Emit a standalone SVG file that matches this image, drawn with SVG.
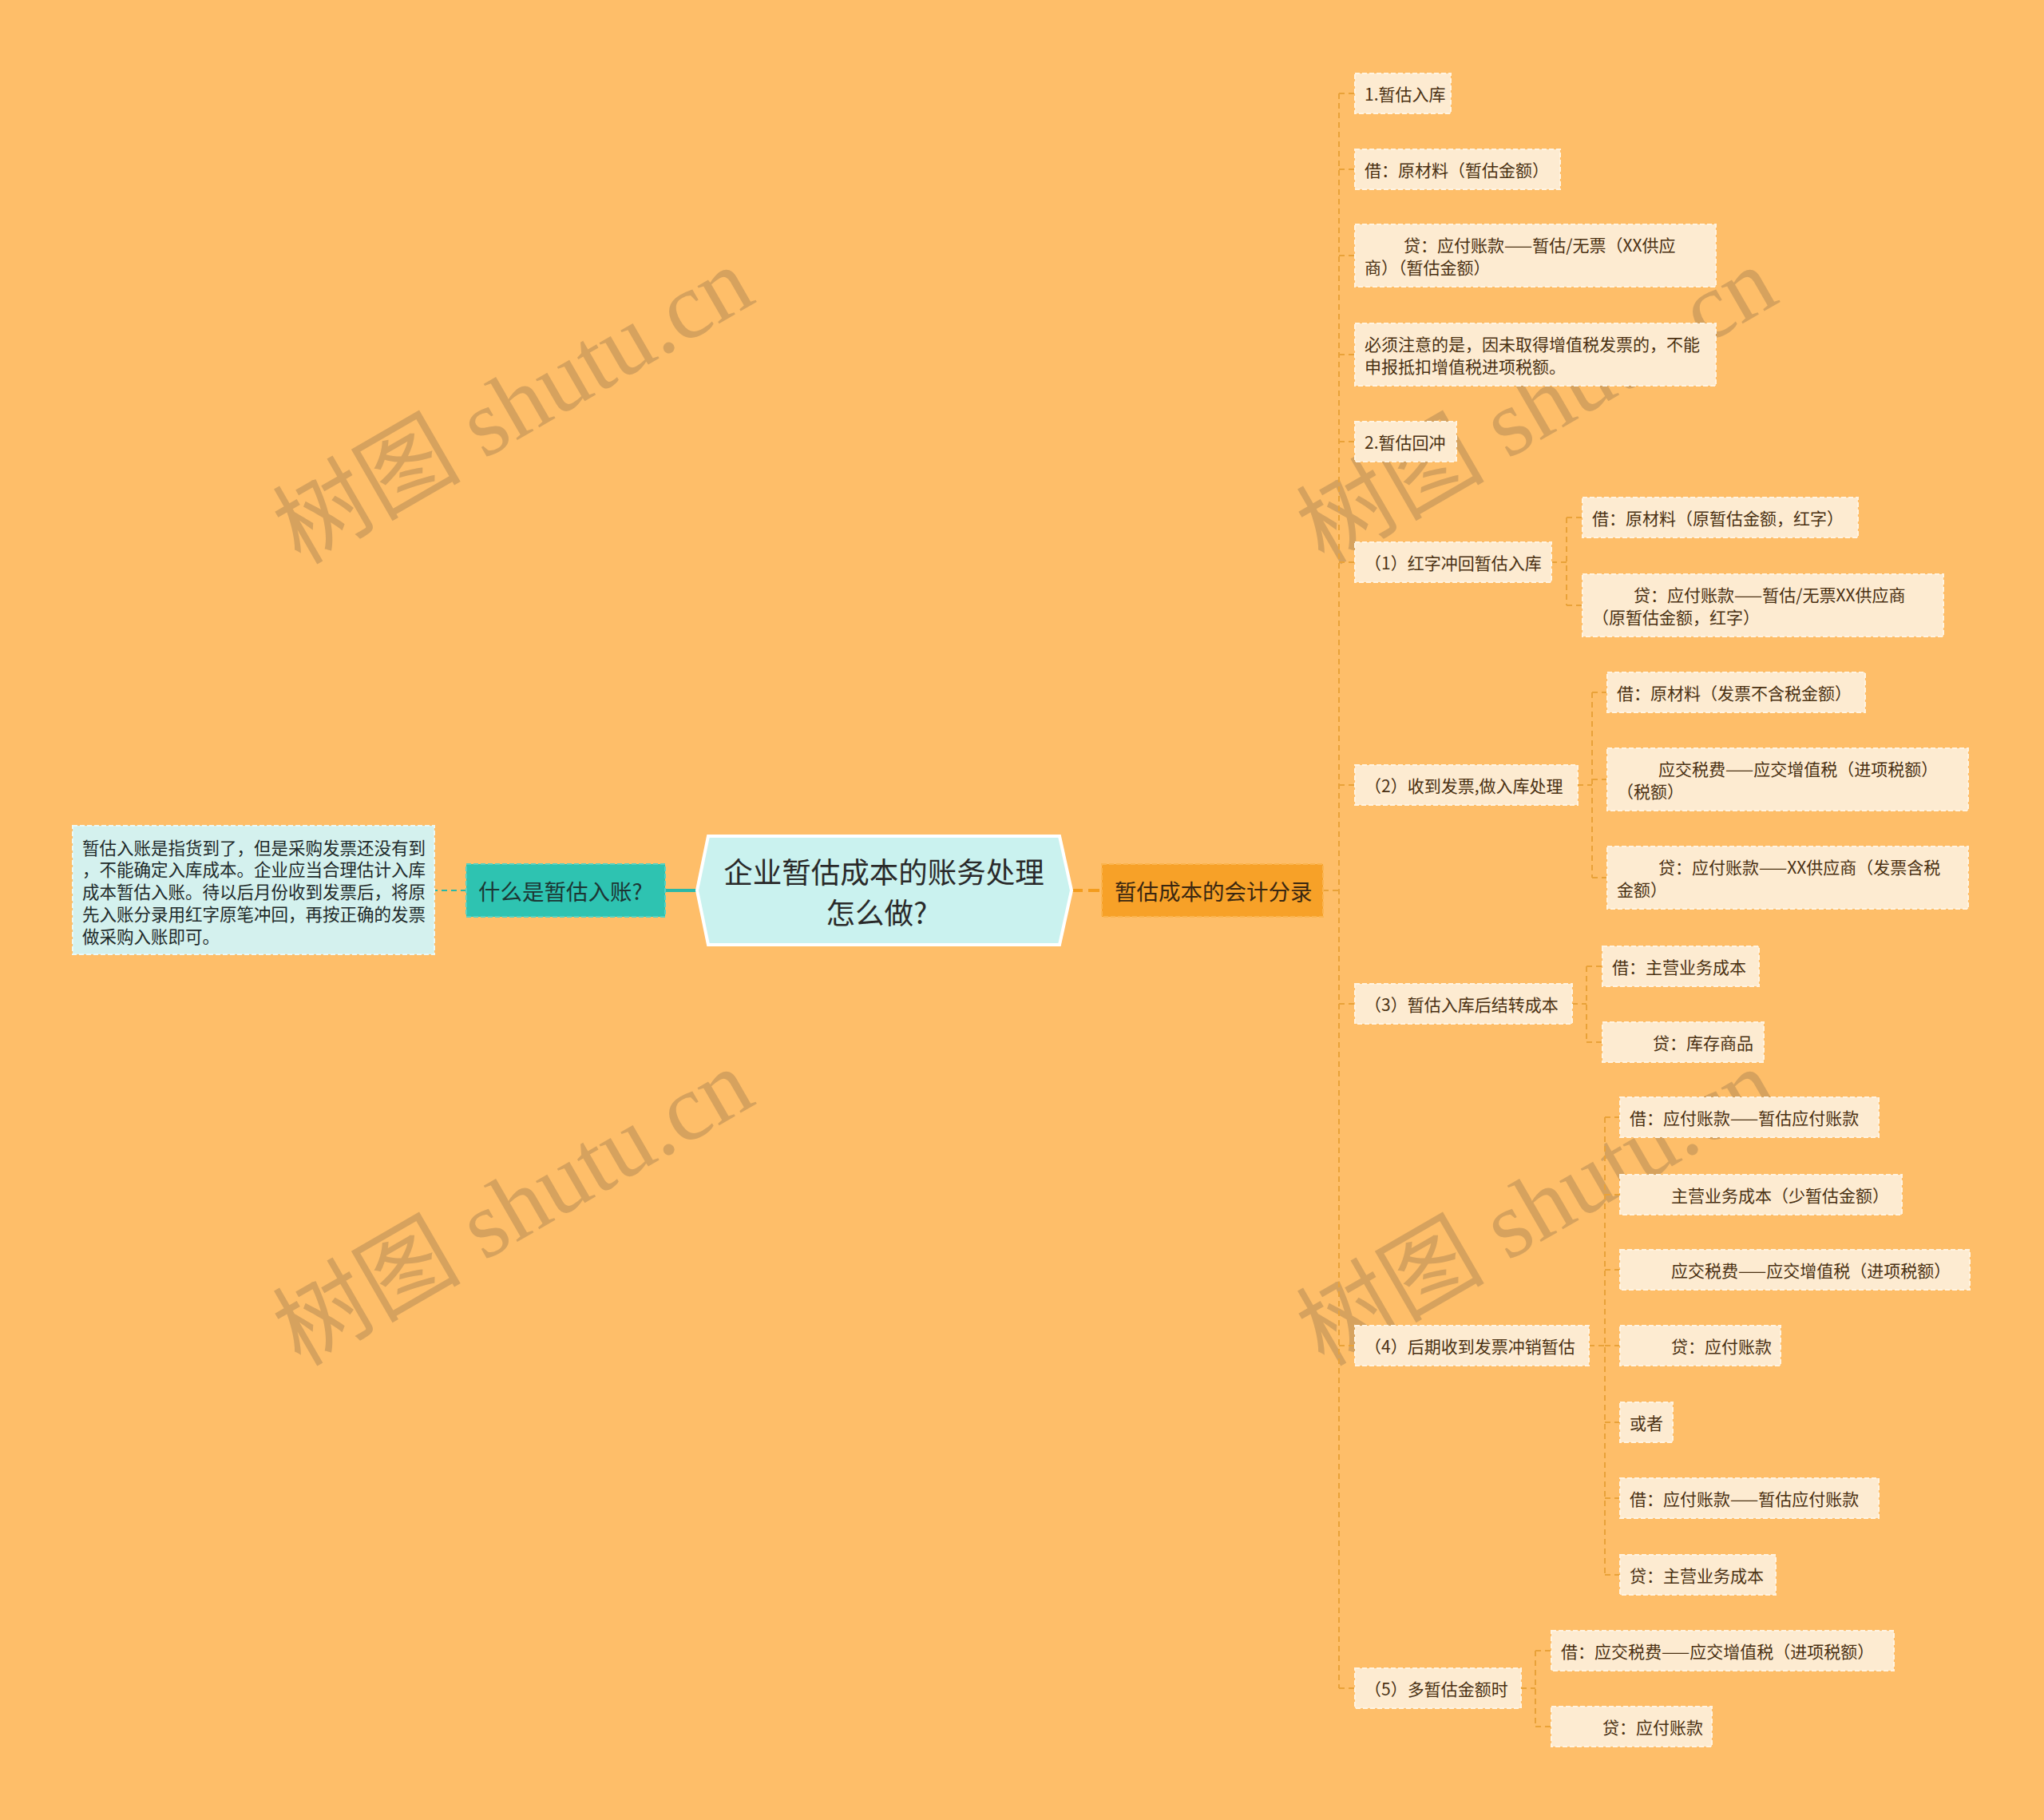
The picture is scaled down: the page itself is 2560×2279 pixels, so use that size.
<svg xmlns="http://www.w3.org/2000/svg" width="2560" height="2279" viewBox="0 0 2560 2279">
<style>
.bg{fill:#FEBE69}
.leaf{fill:#FDEBD1;stroke:#FFF4E2;stroke-width:2;stroke-dasharray:6 3}
.t{font-family:"Noto Sans CJK SC","Noto Sans",sans-serif;font-size:21px;fill:#4A3113;dominant-baseline:central}
.wm{font-family:"Liberation Serif","Noto Sans CJK SC",serif;font-size:118px;fill:#D6A25E}
.con{fill:none;stroke:#E9A239;stroke-width:2;stroke-dasharray:7 5}
</style>
<rect class="bg" x="0" y="0" width="2560" height="2279"/>

<g id="watermarks">
<text class="wm" transform="translate(376,708) rotate(-30)">树图 shutu.cn</text>
<text class="wm" transform="translate(1658,708) rotate(-30)">树图 shutu.cn</text>
<text class="wm" transform="translate(376,1712) rotate(-30)">树图 shutu.cn</text>
<text class="wm" transform="translate(1658,1712) rotate(-30)">树图 shutu.cn</text>
</g>

<g id="connectors">
<line x1="873" y1="1115" x2="833" y2="1115" stroke="#2BB8A6" stroke-width="4"/>
<line x1="584" y1="1115" x2="544" y2="1115" stroke="#2BB8A6" stroke-width="2" stroke-dasharray="7 5"/>
<line x1="1342" y1="1115" x2="1380" y2="1115" stroke="#F39C1E" stroke-width="4" stroke-dasharray="14 7"/>
<path class="con" d="M1657 1115H1677"/>
<path class="con" d="M1677 117V2114"/>
<path class="con" d="M1677 117H1697M1677 212H1697M1677 320H1697M1677 444H1697M1677 553H1697M1677 704H1697M1677 983H1697M1677 1257H1697M1677 1685H1697M1677 2114H1697"/>
<path class="con" d="M1943 704H1962M1962 648V758M1962 648H1982M1962 758H1982"/>
<path class="con" d="M1976 983H1994M1994 867V1099M1994 867H2013M1994 976H2013M1994 1099H2013"/>
<path class="con" d="M1969 1257H1987M1987 1210V1305M1987 1210H2007M1987 1305H2007"/>
<path class="con" d="M1990 1685H2010M2010 1399V1972M2010 1399H2029M2010 1496H2029M2010 1590H2029M2010 1685H2029M2010 1781H2029M2010 1876H2029M2010 1972H2029"/>
<path class="con" d="M1905 2114H1923M1923 2067V2162M1923 2067H1943M1923 2162H1943"/>
</g>

<g id="center">
<polygon points="873,1115 887,1047 1327,1047 1342,1115 1327,1183 887,1183" fill="#CAF2EF" stroke="#FFFFFF" stroke-width="4"/>
<text x="1107" y="1090" text-anchor="middle" font-family="Noto Sans CJK SC,sans-serif" font-size="36.5" fill="#2A2A2A" dominant-baseline="central">企业暂估成本的账务处理</text>
<text x="1098" y="1141" text-anchor="middle" font-family="Noto Sans CJK SC,sans-serif" font-size="36.5" fill="#2A2A2A" dominant-baseline="central">怎么做?</text>
</g>

<g id="what">
<rect x="584" y="1082" width="249" height="66" fill="#2EC3B1" stroke="#55D2C3" stroke-width="2" stroke-dasharray="6 3"/>
<text x="599" y="1115" font-family="Noto Sans CJK SC,sans-serif" font-size="27.5" fill="#1C3634" dominant-baseline="central">什么是暂估入账?</text>
</g>

<g id="desc">
<rect x="91" y="1034" width="453" height="161" fill="#D4F1EE" stroke="#EAF9F7" stroke-width="2" stroke-dasharray="6 3"/>
<g font-family="Noto Sans CJK SC,sans-serif" font-size="21.5" fill="#1E2A2A" dominant-baseline="central">
<text x="103" y="1060">暂估入账是指货到了，但是采购发票还没有到</text>
<text x="103" y="1087">，不能确定入库成本。企业应当合理估计入库</text>
<text x="103" y="1115">成本暂估入账。待以后月份收到发票后，将原</text>
<text x="103" y="1143">先入账分录用红字原笔冲回，再按正确的发票</text>
<text x="103" y="1171">做采购入账即可。</text>
</g>
</g>

<g id="entries">
<rect x="1380" y="1082" width="277" height="66" fill="#F7A128" stroke="#FBB44E" stroke-width="2" stroke-dasharray="6 3"/>
<text x="1396" y="1115" font-family="Noto Sans CJK SC,sans-serif" font-size="27.5" fill="#3A2710" dominant-baseline="central">暂估成本的会计分录</text>
</g>

<g id="n1"><rect class="leaf" x="1697" y="92" width="120" height="50"/><text class="t" x="1709" y="117">1.暂估入库</text></g>
<g id="n2"><rect class="leaf" x="1697" y="187" width="257" height="50"/><text class="t" x="1709" y="212">借：原材料（暂估金额）</text></g>
<g id="n3"><rect class="leaf" x="1697" y="281" width="452" height="78"/><text class="t" x="1758" y="306">贷：应付账款——暂估/无票（XX供应</text><text class="t" x="1709" y="334">商）（暂估金额）</text></g>
<g id="n4"><rect class="leaf" x="1697" y="405" width="452" height="78"/><text class="t" x="1709" y="430">必须注意的是，因未取得增值税发票的，不能</text><text class="t" x="1709" y="458">申报抵扣增值税进项税额。</text></g>
<g id="n5"><rect class="leaf" x="1697" y="528" width="127" height="50"/><text class="t" x="1709" y="553">2.暂估回冲</text></g>
<g id="n6"><rect class="leaf" x="1697" y="679" width="246" height="50"/><text class="t" x="1709" y="704">（1）红字冲回暂估入库</text></g>
<g id="n6a"><rect class="leaf" x="1982" y="623" width="345" height="50"/><text class="t" x="1994" y="648">借：原材料（原暂估金额，红字）</text></g>
<g id="n6b"><rect class="leaf" x="1982" y="719" width="452" height="78"/><text class="t" x="2046" y="744">贷：应付账款——暂估/无票XX供应商</text><text class="t" x="1994" y="772">（原暂估金额，红字）</text></g>
<g id="n7"><rect class="leaf" x="1697" y="958" width="279" height="50"/><text class="t" x="1709" y="983">（2）收到发票,做入库处理</text></g>
<g id="n7a"><rect class="leaf" x="2013" y="842" width="323" height="50"/><text class="t" x="2025" y="867">借：原材料（发票不含税金额）</text></g>
<g id="n7b"><rect class="leaf" x="2013" y="937" width="452" height="78"/><text class="t" x="2077" y="962">应交税费——应交增值税（进项税额）</text><text class="t" x="2025" y="990">（税额）</text></g>
<g id="n7c"><rect class="leaf" x="2013" y="1060" width="452" height="78"/><text class="t" x="2077" y="1085">贷：应付账款——XX供应商（发票含税</text><text class="t" x="2025" y="1113">金额）</text></g>
<g id="n8"><rect class="leaf" x="1697" y="1232" width="272" height="50"/><text class="t" x="1709" y="1257">（3）暂估入库后结转成本</text></g>
<g id="n8a"><rect class="leaf" x="2007" y="1185" width="196" height="50"/><text class="t" x="2019" y="1210">借：主营业务成本</text></g>
<g id="n8b"><rect class="leaf" x="2007" y="1280" width="202" height="50"/><text class="t" x="2070" y="1305">贷：库存商品</text></g>
<g id="n9"><rect class="leaf" x="1697" y="1660" width="293" height="50"/><text class="t" x="1709" y="1685">（4）后期收到发票冲销暂估</text></g>
<g id="n9a"><rect class="leaf" x="2029" y="1374" width="324" height="50"/><text class="t" x="2041" y="1399">借：应付账款——暂估应付账款</text></g>
<g id="n9b"><rect class="leaf" x="2029" y="1471" width="353" height="50"/><text class="t" x="2093" y="1496">主营业务成本（少暂估金额）</text></g>
<g id="n9c"><rect class="leaf" x="2029" y="1565" width="438" height="50"/><text class="t" x="2093" y="1590">应交税费——应交增值税（进项税额）</text></g>
<g id="n9d"><rect class="leaf" x="2029" y="1660" width="201" height="50"/><text class="t" x="2093" y="1685">贷：应付账款</text></g>
<g id="n9e"><rect class="leaf" x="2029" y="1756" width="66" height="50"/><text class="t" x="2041" y="1781">或者</text></g>
<g id="n9f"><rect class="leaf" x="2029" y="1851" width="324" height="50"/><text class="t" x="2041" y="1876">借：应付账款——暂估应付账款</text></g>
<g id="n9g"><rect class="leaf" x="2029" y="1947" width="195" height="50"/><text class="t" x="2041" y="1972">贷：主营业务成本</text></g>
<g id="n10"><rect class="leaf" x="1697" y="2089" width="208" height="50"/><text class="t" x="1709" y="2114">（5）多暂估金额时</text></g>
<g id="n10a"><rect class="leaf" x="1943" y="2042" width="429" height="50"/><text class="t" x="1955" y="2067">借：应交税费——应交增值税（进项税额）</text></g>
<g id="n10b"><rect class="leaf" x="1943" y="2137" width="201" height="50"/><text class="t" x="2007" y="2162">贷：应付账款</text></g>
</svg>
